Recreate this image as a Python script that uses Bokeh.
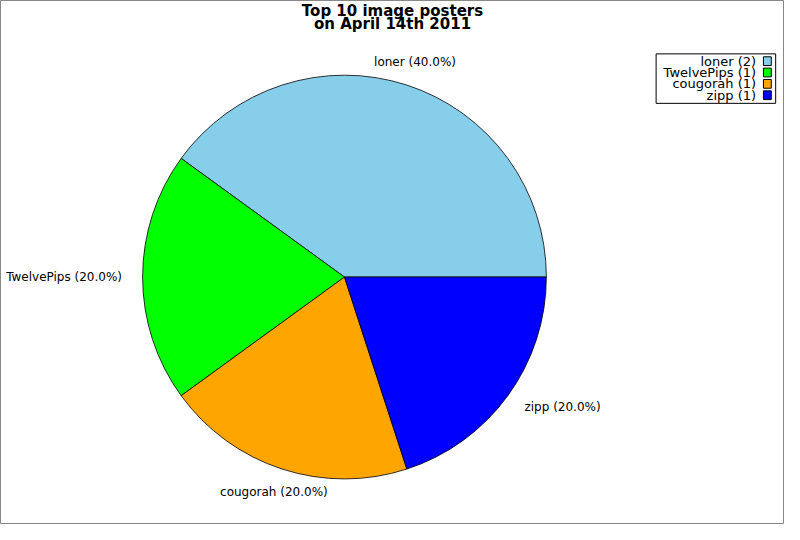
from math import pi, cos, sin

from bokeh.plotting import figure
from bokeh.models import Range1d, ColumnDataSource
from bokeh.core.properties import value
from bokeh.embed import file_html
from bokeh.resources import INLINE

title_lines = ["Top 10 image posters", "on April 14th 2011"]
names = ["loner", "TwelvePips", "cougorah", "zipp"]
counts = [2, 1, 1, 1]
colors = ["#87CEEB", "#00FF00", "#FFA500", "#0000FF"]

FONT = value("DejaVu Sans")
H = 540  # reference height, y flipped so reference pixels map onto the plot


def fy(y):
    return H - y


def main():
    p = figure(width=784, height=524, output_backend="svg", toolbar_location=None,
               x_range=Range1d(0, 800), y_range=Range1d(0, 540),
               min_border=0, outline_line_color="#888888")
    p.axis.visible = False
    p.grid.visible = False

    cx, cy, r = 351, 285, 206
    total = sum(counts)
    starts, ends, lx, ly, la, labels = [], [], [], [], [], []
    a = 0.0
    for n, c in zip(names, counts):
        frac = c / total
        b = a + frac * 2 * pi
        starts.append(a)
        ends.append(b)
        mid = (a + b) / 2
        if cos(mid) > 0.5:
            la.append("left")
            lr = r + 21
        elif cos(mid) < -0.5:
            la.append("right")
            lr = r + 21
        else:
            la.append("center")
            lr = r + 27
        lx.append(cx + lr * cos(mid))
        ly.append(fy(cy) + lr * sin(mid))
        labels.append("%s (%.1f%%)" % (n, frac * 100))
        a = b

    src = ColumnDataSource(dict(start=starts, end=ends, color=colors))
    p.wedge(x=cx, y=fy(cy), radius=r, start_angle="start", end_angle="end",
            fill_color="color", line_color="black", line_width=0.8, source=src)

    lsrc = ColumnDataSource(dict(x=lx, y=ly, text=labels, align=la))
    p.text(x="x", y="y", text="text", text_align="align", text_baseline="middle",
           text_font=FONT, text_font_size="12px", text_color="black", source=lsrc)

    # title
    p.text(x=[400, 400], y=[fy(10.5), fy(24.5)], text=title_lines,
           text_align="center", text_baseline="middle", text_font=FONT,
           text_font_size="15px", text_font_style="bold", text_color="black")

    # legend
    p.quad(left=669, right=791, top=fy(55), bottom=fy(106),
           fill_color="white", line_color="black", line_width=1)
    rows = [fy(62.5 + i * 11.7) for i in range(len(names))]
    leg_text = ["%s (%d)" % (n, c) for n, c in zip(names, counts)]
    p.text(x=[771] * len(names), y=rows, text=leg_text, text_align="right",
           text_baseline="middle", text_font=FONT, text_font_size="13px",
           text_color="black")
    p.rect(x=[782.5] * len(names), y=rows, width=8, height=9, fill_color=colors,
           line_color="black", line_width=1)

    open("out.html", "w").write(file_html(p, INLINE))


if __name__ == "__main__":
    main()
